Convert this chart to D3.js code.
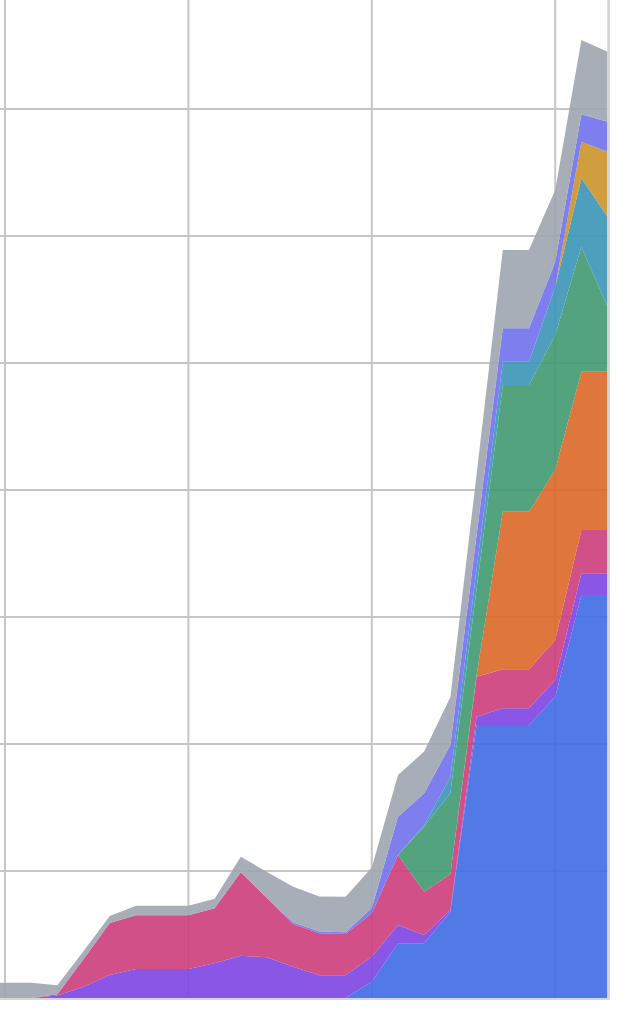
<!DOCTYPE html>
<html>
<head>
<meta charset="utf-8">
<script src="https://cdn.jsdelivr.net/npm/d3@7"></script>
<style>
  html, body { margin: 0; padding: 0; background: #fff; }
  svg { display: block; }
</style>
</head>
<body>
<div id="chart"></div>
<script>
// Period index for each sample (the view shows a crop of the full chart)
const periods = [-1, 0, 1, 2, 3, 4, 5, 6, 7, 8, 9, 10, 11, 12, 13, 14, 15, 16, 17, 18, 19, 20, 21, 22, 23];

// Series values (bottom to top of the stack)
const blue     = [0, 0, 0, 0, 0, 0, 0, 0, 0, 0, 0, 0, 0, 0, 0, 1.28, 4.31, 4.31, 6.8, 21.5, 21.5, 21.5, 23.72, 31.73, 31.73];
const purple   = [0, 0, 0, 0.2, 0.89, 1.81, 2.28, 2.28, 2.28, 2.73, 3.33, 3.2, 2.46, 1.79, 1.79, 1.97, 1.44, 0.65, 0.13, 0.65, 1.31, 1.31, 1.31, 1.71, 1.71];
const pink     = [0, 0, 0, 0.1, 2.18, 4.09, 4.23, 4.23, 4.23, 4.33, 6.57, 4.67, 3.36, 3.31, 3.25, 3.42, 5.51, 3.41, 2.83, 3.15, 3.07, 3.07, 3.15, 3.41, 3.41];
const orange   = [0, 0, 0, 0, 0, 0, 0, 0, 0, 0, 0, 0, 0, 0, 0, 0, 0, 0, 0, 0.13, 12.41, 12.41, 13.39, 12.46, 12.46];
const green    = [0, 0, 0, 0, 0, 0, 0, 0, 0, 0, 0, 0, 0, 0, 0, 0, 0, 5.12, 6.38, 6.77, 9.98, 9.98, 10.63, 9.84, 5.12];
const teal     = [0, 0, 0, 0, 0, 0, 0, 0, 0, 0, 0, 0, 0, 0, 0, 0, 0, 0.13, 1.26, 1.57, 1.83, 1.83, 3.78, 5.39, 7.09];
const gold     = [0, 0, 0, 0, 0, 0, 0, 0, 0, 0, 0, 0, 0, 0, 0, 0, 0, 0, 0, 0, 0, 0, 0, 2.88, 5.12];
const lavender = [0, 0, 0, 0, 0, 0, 0, 0, 0, 0, 0, 0, 0.12, 0.13, 0.13, 0.42, 3.02, 2.5, 2.52, 2.68, 2.63, 2.63, 1.97, 2.16, 2.36];
const gray     = [1.2, 1.2, 1.2, 0.7, 0.63, 0.55, 0.76, 0.76, 0.76, 0.76, 1.23, 2.05, 2.82, 2.76, 2.8, 3.19, 3.28, 3.28, 3.78, 4.8, 6.17, 6.17, 5.67, 5.85, 5.51];

const seriesNames  = ["blue", "purple", "pink", "orange", "green", "teal", "gold", "lavender", "gray"];
const seriesValues = [blue, purple, pink, orange, green, teal, gold, lavender, gray];
const seriesColors = ["#3e6ce3", "#7d44e3", "#cc3d7b", "#db6827", "#409a70", "#3b93b7", "#cb9329", "#7070ec", "#9fa5b0"];

// Grid ticks
const xGridTicks = [0, 7, 14, 21];
const yGridTicks = [10, 20, 30, 40, 50, 60, 70];

const W = 628, H = 1020;
const svg = d3.select("#chart").append("svg").attr("width", W).attr("height", H);

const x = d3.scaleLinear().domain([0, 23]).range([5, 607.6]);
const y = d3.scaleLinear().domain([0, 80]).range([998, -18]);

// Table for the stack
const table = periods.map((p, i) => {
  const row = { period: p };
  seriesNames.forEach((n, j) => { row[n] = seriesValues[j][i]; });
  return row;
});

const stack = d3.stack().keys(seriesNames);
const layers = stack(table);

// Grid
const grid = svg.append("g");
grid.selectAll("line.v").data(xGridTicks).join("line")
  .attr("x1", d => x(d)).attr("x2", d => x(d))
  .attr("y1", 0).attr("y2", y(0))
  .attr("stroke", "#c6c6c6").attr("stroke-width", 2);
grid.selectAll("line.h").data(yGridTicks).join("line")
  .attr("x1", 0).attr("x2", x(23))
  .attr("y1", d => y(d)).attr("y2", d => y(d))
  .attr("stroke", "#c6c6c6").attr("stroke-width", 2);

svg.append("clipPath").attr("id", "clip").append("rect")
  .attr("x", 0).attr("y", 0).attr("width", x(23)).attr("height", y(0));

const area = d3.area()
  .x(d => x(d.data.period))
  .y0(d => y(d[0]))
  .y1(d => y(d[1]));

svg.append("g").attr("clip-path", "url(#clip)")
  .selectAll("path").data(layers).join("path")
  .attr("d", area)
  .attr("fill", (d, i) => seriesColors[i])
  .attr("fill-opacity", 0.9);

// Frame (right and bottom)
svg.append("line").attr("x1", x(23) + 1).attr("x2", x(23) + 1)
  .attr("y1", 0).attr("y2", y(0) + 1)
  .attr("stroke", "#d2d2d2").attr("stroke-width", 2.5);
svg.append("line").attr("x1", 0).attr("x2", x(23) + 2)
  .attr("y1", y(0) + 1).attr("y2", y(0) + 1)
  .attr("stroke", "#d6d6d6").attr("stroke-width", 2);
</script>
</body>
</html>
